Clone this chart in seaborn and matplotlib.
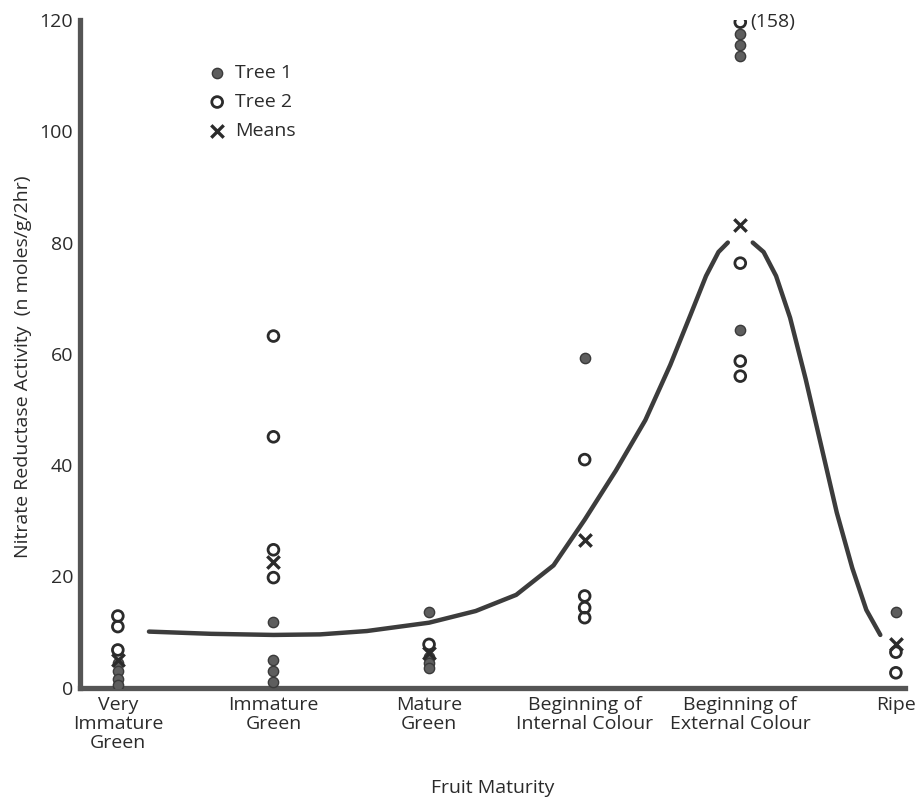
import numpy as np
import pandas as pd
import matplotlib
matplotlib.use("Agg")
import matplotlib.pyplot as plt
import seaborn as sns

# ---------------- data ----------------
categories = ["Very\nImmature\nGreen", "Immature\nGreen", "Mature\nGreen",
              "Beginning of\nInternal Colour", "Beginning of\nExternal Colour", "Ripe"]

tree1_cat = [0, 0, 0, 0, 1, 1, 1, 1, 2, 2, 2, 2, 3, 4, 4, 4, 4, 5]
tree1_val = [4.5, 3.0, 1.5, 0.5, 11.9, 5.0, 3.0, 1.0, 13.7, 5.5, 4.5, 3.5,
             59.3, 117.5, 115.5, 113.5, 64.3, 13.7]

tree2_cat = [0, 0, 0, 1, 1, 1, 1, 2, 3, 3, 3, 3, 4, 4, 4, 4, 5, 5]
tree2_val = [12.9, 11.0, 6.8, 63.2, 45.1, 24.8, 19.8, 7.8, 41.0, 16.5, 14.4, 12.6,
             119.6, 76.3, 58.7, 56.0, 6.4, 2.7]

means_cat = [0, 1, 2, 3, 4, 5]
means_val = [5.0, 22.6, 6.3, 26.6, 83.2, 7.9]

curve_x = [0.20, 0.6, 1.0, 1.3, 1.6, 2.0, 2.3, 2.56, 2.8, 3.0, 3.2, 3.39, 3.55, 3.68,
           3.78, 3.86, 3.92,
           np.nan,
           4.08, 4.15, 4.23, 4.32, 4.42, 4.52, 4.62, 4.72, 4.81, 4.9]
curve_y = [10.1, 9.7, 9.5, 9.6, 10.2, 11.7, 13.8, 16.7, 22.0, 30.2, 39.0, 48.1, 58.0, 67.0,
           74.0, 78.3, 80.0,
           np.nan,
           80.0, 78.3, 74.0, 66.5, 55.5, 43.5, 31.5, 21.5, 14.0, 9.5]

offscale_label = "(158)"
y_ticks = [0, 20, 40, 60, 80, 100, 120]

# ---------------- style ----------------
sns.set_theme(style="white")
plt.rcParams["font.family"] = ["Open Sans", "DejaVu Sans"]
ink = "#2b2b2b"
fs = 14

fig = plt.figure(figsize=(9.22, 7.97), dpi=100)
ax = fig.add_axes([0.0868, 0.137, 0.895, 0.838])

df1 = pd.DataFrame({"x": tree1_cat, "y": tree1_val})
df2 = pd.DataFrame({"x": tree2_cat, "y": tree2_val})
dfm = pd.DataFrame({"x": means_cat, "y": means_val})
dfc = pd.DataFrame({"x": curve_x, "y": curve_y})
brk = int(np.where(dfc["x"].isna())[0][0])
seg1 = dfc.iloc[:brk]
seg2 = dfc.iloc[brk + 1:]

for seg in (seg1, seg2):
    sns.lineplot(data=seg, x="x", y="y", ax=ax, color="#3c3c3c", lw=3.2, sort=False,
                 estimator=None, solid_capstyle="round", solid_joinstyle="round")

sns.scatterplot(data=df1, x="x", y="y", ax=ax, marker="o", s=55, color="#5e5e5e",
                edgecolor="#3a3a3a", linewidth=1.0, label="Tree 1", zorder=4)
sns.scatterplot(data=df2, x="x", y="y", ax=ax, marker="o", s=60, facecolors="none",
                edgecolor=ink, linewidth=2.0, label="Tree 2", zorder=5)
sns.scatterplot(data=dfm, x="x", y="y", ax=ax, marker="x", s=80, color=ink,
                linewidth=2.4, label="Means", zorder=6)

# off-scale annotation
top_idx = int(np.argmax(tree2_val))
ax.annotate(offscale_label, xy=(tree2_cat[top_idx], tree2_val[top_idx]),
            xytext=(7, 0), textcoords="offset points", va="center", ha="left",
            fontsize=fs, color=ink)

ax.set_xlim(-0.243, 5.06)
ax.set_ylim(0, 120)
ax.set_xticks(range(len(categories)))
ax.set_xticklabels(categories, fontsize=fs, color=ink, linespacing=1.05)
ax.set_yticks(y_ticks)
ax.set_yticklabels([str(t) for t in y_ticks], fontsize=fs, color=ink)
ax.tick_params(axis="y", direction="out", length=3, width=3, color="#4a4a4a", pad=2)
ax.tick_params(axis="x", direction="out", length=3, width=1.5, color="#4a4a4a", pad=3)

for s in ["top", "right"]:
    ax.spines[s].set_visible(False)
for s in ["left", "bottom"]:
    ax.spines[s].set_linewidth(3.8)
    ax.spines[s].set_color("#555555")

ax.set_xlabel("Fruit Maturity", fontsize=fs, color=ink, labelpad=20)
ax.set_ylabel("Nitrate Reductase Activity  (n moles/g/2hr)", fontsize=fs, color=ink)
ax.yaxis.set_label_coords(-0.058, 0.48)

leg = ax.legend(loc="upper left", bbox_to_anchor=(0.145, 0.945), frameon=False,
                fontsize=fs, handletextpad=0.4, labelspacing=0.55, handlelength=1.0,
                borderaxespad=0)
for t in leg.get_texts():
    t.set_color(ink)

fig.savefig("out.png", dpi=100)
